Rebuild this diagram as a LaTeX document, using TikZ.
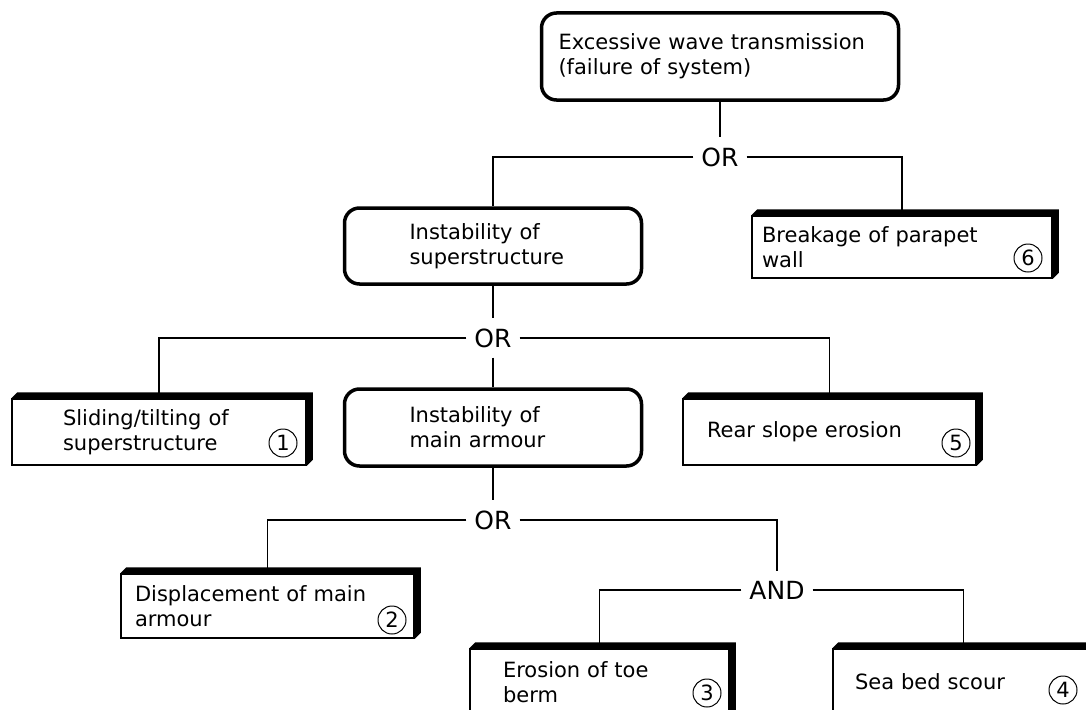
\documentclass[tikz,border=0pt]{standalone}
\usepackage{fontspec}
\setmainfont{DejaVu Sans}[WordSpace=2]
\usepackage{tikz}
\usetikzlibrary{positioning}
\tikzset{
  event/.style={draw,rounded corners=15pt,line width=3.5pt,align=left},
  basic/.style={draw,line width=1.5pt,align=left},
  gate/.style={font=\fontsize{25}{25}\selectfont,inner xsep=8pt,inner ysep=10pt},
  num/.style={draw,circle,line width=1pt,inner sep=0pt,minimum size=28pt,
    font=\fontsize{21}{21}\selectfont},
  link/.style={line width=1.3pt},
}

\begin{document}
\begin{tikzpicture}[x=1pt,y=-1pt,font=\fontsize{21}{25}\selectfont]
    \useasboundingbox (0,0) rectangle (1086,709);
    % events with rounded frame
    \node[event,inner xsep=17pt,text width=323pt,minimum height=87pt] (top) at (720,56.5)
      {Excessive wave transmission\\(failure of system)};
    \node[event,inner xsep=65pt,text width=167pt,minimum height=76pt] (super) at (493,246)
      {Instability of\\superstructure};
    \node[event,inner xsep=65pt,text width=167pt,minimum height=77pt] (armour) at (493,427.5)
      {Instability of\\main armour};
    % basic events
    \node[basic,inner xsep=51pt,text width=192pt,minimum height=66pt] (slide) at (159,432)
      {Sliding/tilting of\\superstructure};
    \node[basic,inner xsep=24pt,text width=245pt,minimum height=66pt] (rear) at (829.5,432)
      {Rear slope erosion};
    \node[basic,inner xsep=10pt,text width=280pt,minimum height=62pt] (brk) at (902,247)
      {Breakage of parapet\\wall};
    \node[basic,inner xsep=14pt,text width=265pt,minimum height=64pt] (disp) at (267.5,606)
      {Displacement of main\\armour};
    \node[basic,inner xsep=33pt,text width=193pt,minimum height=66pt] (eros) at (599.5,682)
      {Erosion of toe\\berm};
    \node[basic,inner xsep=22pt,text width=217pt,minimum height=66pt] (sea) at (963.5,682)
      {Sea bed scour};
    \foreach \b in {slide,rear,brk,disp,eros,sea}
      \fill (\b.north west) -- ++(6,-6) -| ([shift={(6,-6)}]\b.south east)
        -- (\b.south east) -- (\b.north east) -- cycle;
    % gates
    \node[gate] (or1) at (720,157) {OR};
    \node[gate] (or2) at (493,338) {OR};
    \node[gate] (or3) at (493,520) {OR};
    \node[gate] (and) at (777,590) {AND};
    % numbers
    \node[num] (n1) at (283,443) {1};
    \node[num] (n2) at (392,620) {2};
    \node[num] (n3) at (707,693) {3};
    \node[num] (n4) at (1063,690) {4};
    \node[num] (n5) at (956,443) {5};
    \node[num] (n6) at (1028,258) {6};
    % connectors
    \draw[link] (top) -- (or1);
    \draw[link] (or1) -| (super);
    \draw[link] (or1) -| (brk);
    \draw[link] (super) -- (or2);
    \draw[link] (or2) -| (slide);
    \draw[link] (or2) -- (armour);
    \draw[link] (or2) -| (rear);
    \draw[link] (armour) -- (or3);
    \draw[link] (or3) -| (disp);
    \draw[link] (or3) -| (and);
    \draw[link] (and) -| (eros);
    \draw[link] (and) -| (sea);
  \end{tikzpicture}
\end{document}
